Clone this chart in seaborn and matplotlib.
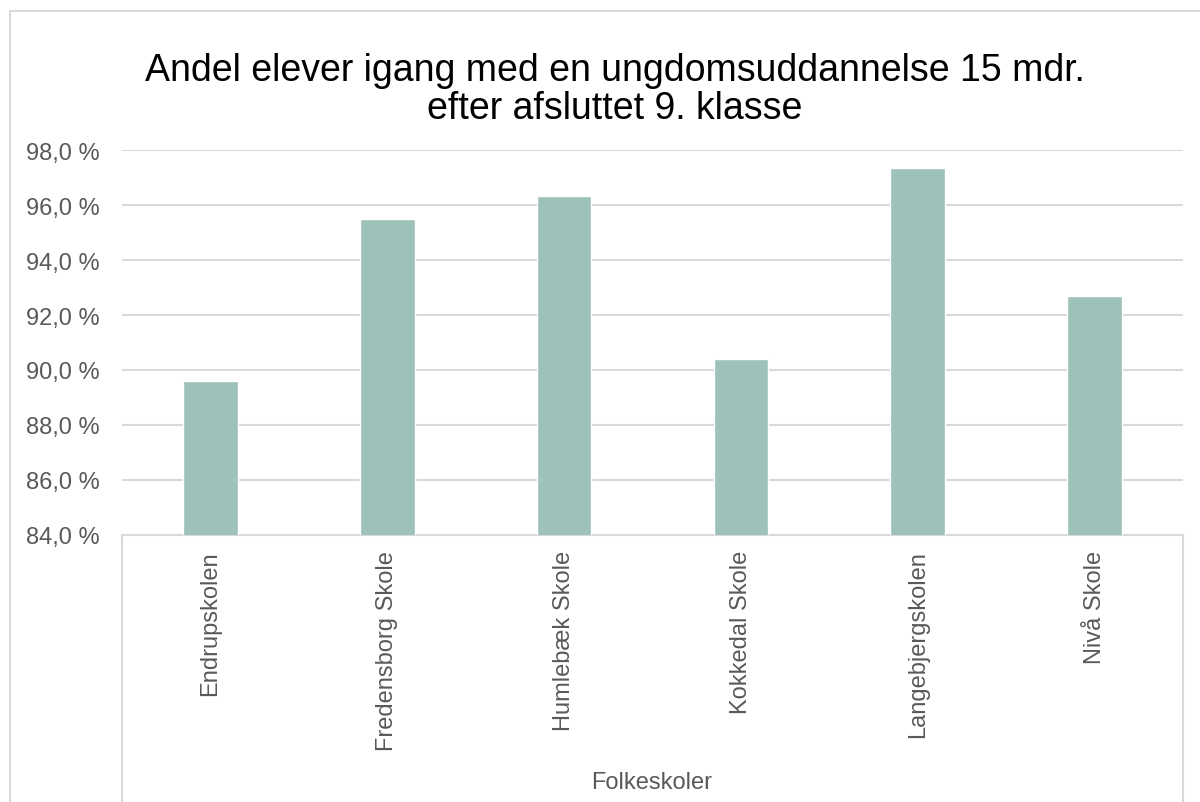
import matplotlib
matplotlib.use("Agg")
import matplotlib.pyplot as plt
from matplotlib.lines import Line2D
from matplotlib.ticker import FuncFormatter, MultipleLocator
import seaborn as sns
import pandas as pd

# data
schools = ["Endrupskolen", "Fredensborg Skole", "Humlebæk Skole",
           "Kokkedal Skole", "Langebjergskolen", "Nivå Skole"]
shares = [89.6, 95.5, 96.35, 90.4, 97.35, 92.7]

title = "Andel elever igang med en ungdomsuddannelse 15 mdr.\nefter afsluttet 9. klasse"
x_title = "Folkeskoler"

sns.set_style("white")
plt.rcParams["font.family"] = ["Liberation Sans", "DejaVu Sans"]

df = pd.DataFrame({"skole": schools, "andel": shares})

W, H = 1200, 803
fig = plt.figure(figsize=(W / 100, H / 100), dpi=100)
ax = fig.add_axes([122 / W, 1 - 535.7 / H, (1183 - 122) / W, (535.7 - 151.3) / H])

sns.barplot(data=df, x="skole", y="andel", color="#9CC2B9", width=0.31,
            saturation=1, ax=ax, zorder=3)

ax.set_ylim(84, 98)
ax.yaxis.set_major_locator(MultipleLocator(2))
ax.yaxis.set_major_formatter(FuncFormatter(lambda v, p: f"{v:.1f} %".replace(".", ",")))
ax.grid(axis="y", color="#D9D9D9", linewidth=1.5, zorder=0)
for s in ["top", "right", "left"]:
    ax.spines[s].set_visible(False)
ax.spines["bottom"].set_color("#D9D9D9")
ax.spines["bottom"].set_linewidth(1.5)

ax.tick_params(axis="y", length=0, pad=16, labelsize=17, labelcolor="#595959")
ax.tick_params(axis="x", length=0, pad=11, labelsize=17, labelcolor="#595959")
plt.setp(ax.get_xticklabels(), rotation=90, va="top")
ax.set_xlabel("")
ax.set_ylabel("")

# category box lines below the axis
fig.add_artist(Line2D([122 / W, 122 / W], [0, 1 - 535.7 / H], color="#D9D9D9", lw=1.5))
fig.add_artist(Line2D([1183 / W, 1183 / W], [0, 1 - 535.7 / H], color="#D9D9D9", lw=1.5))

# outer chart border
fig.add_artist(Line2D([10 / W, 10 / W], [0, 1 - 12 / H], color="#D9D9D9", lw=1.5))
fig.add_artist(Line2D([10 / W, 1], [1 - 12 / H, 1 - 12 / H], color="#D9D9D9", lw=1.5))

fig.text(615 / W, 1 - 90 / H, title, ha="center", va="center", fontsize=27,
         color="#000000", linespacing=1.1)
fig.text(652 / W, 1 - 783 / H, x_title, ha="center", va="center", fontsize=17,
         color="#595959")

fig.savefig("out.png", dpi=100, facecolor="white")
